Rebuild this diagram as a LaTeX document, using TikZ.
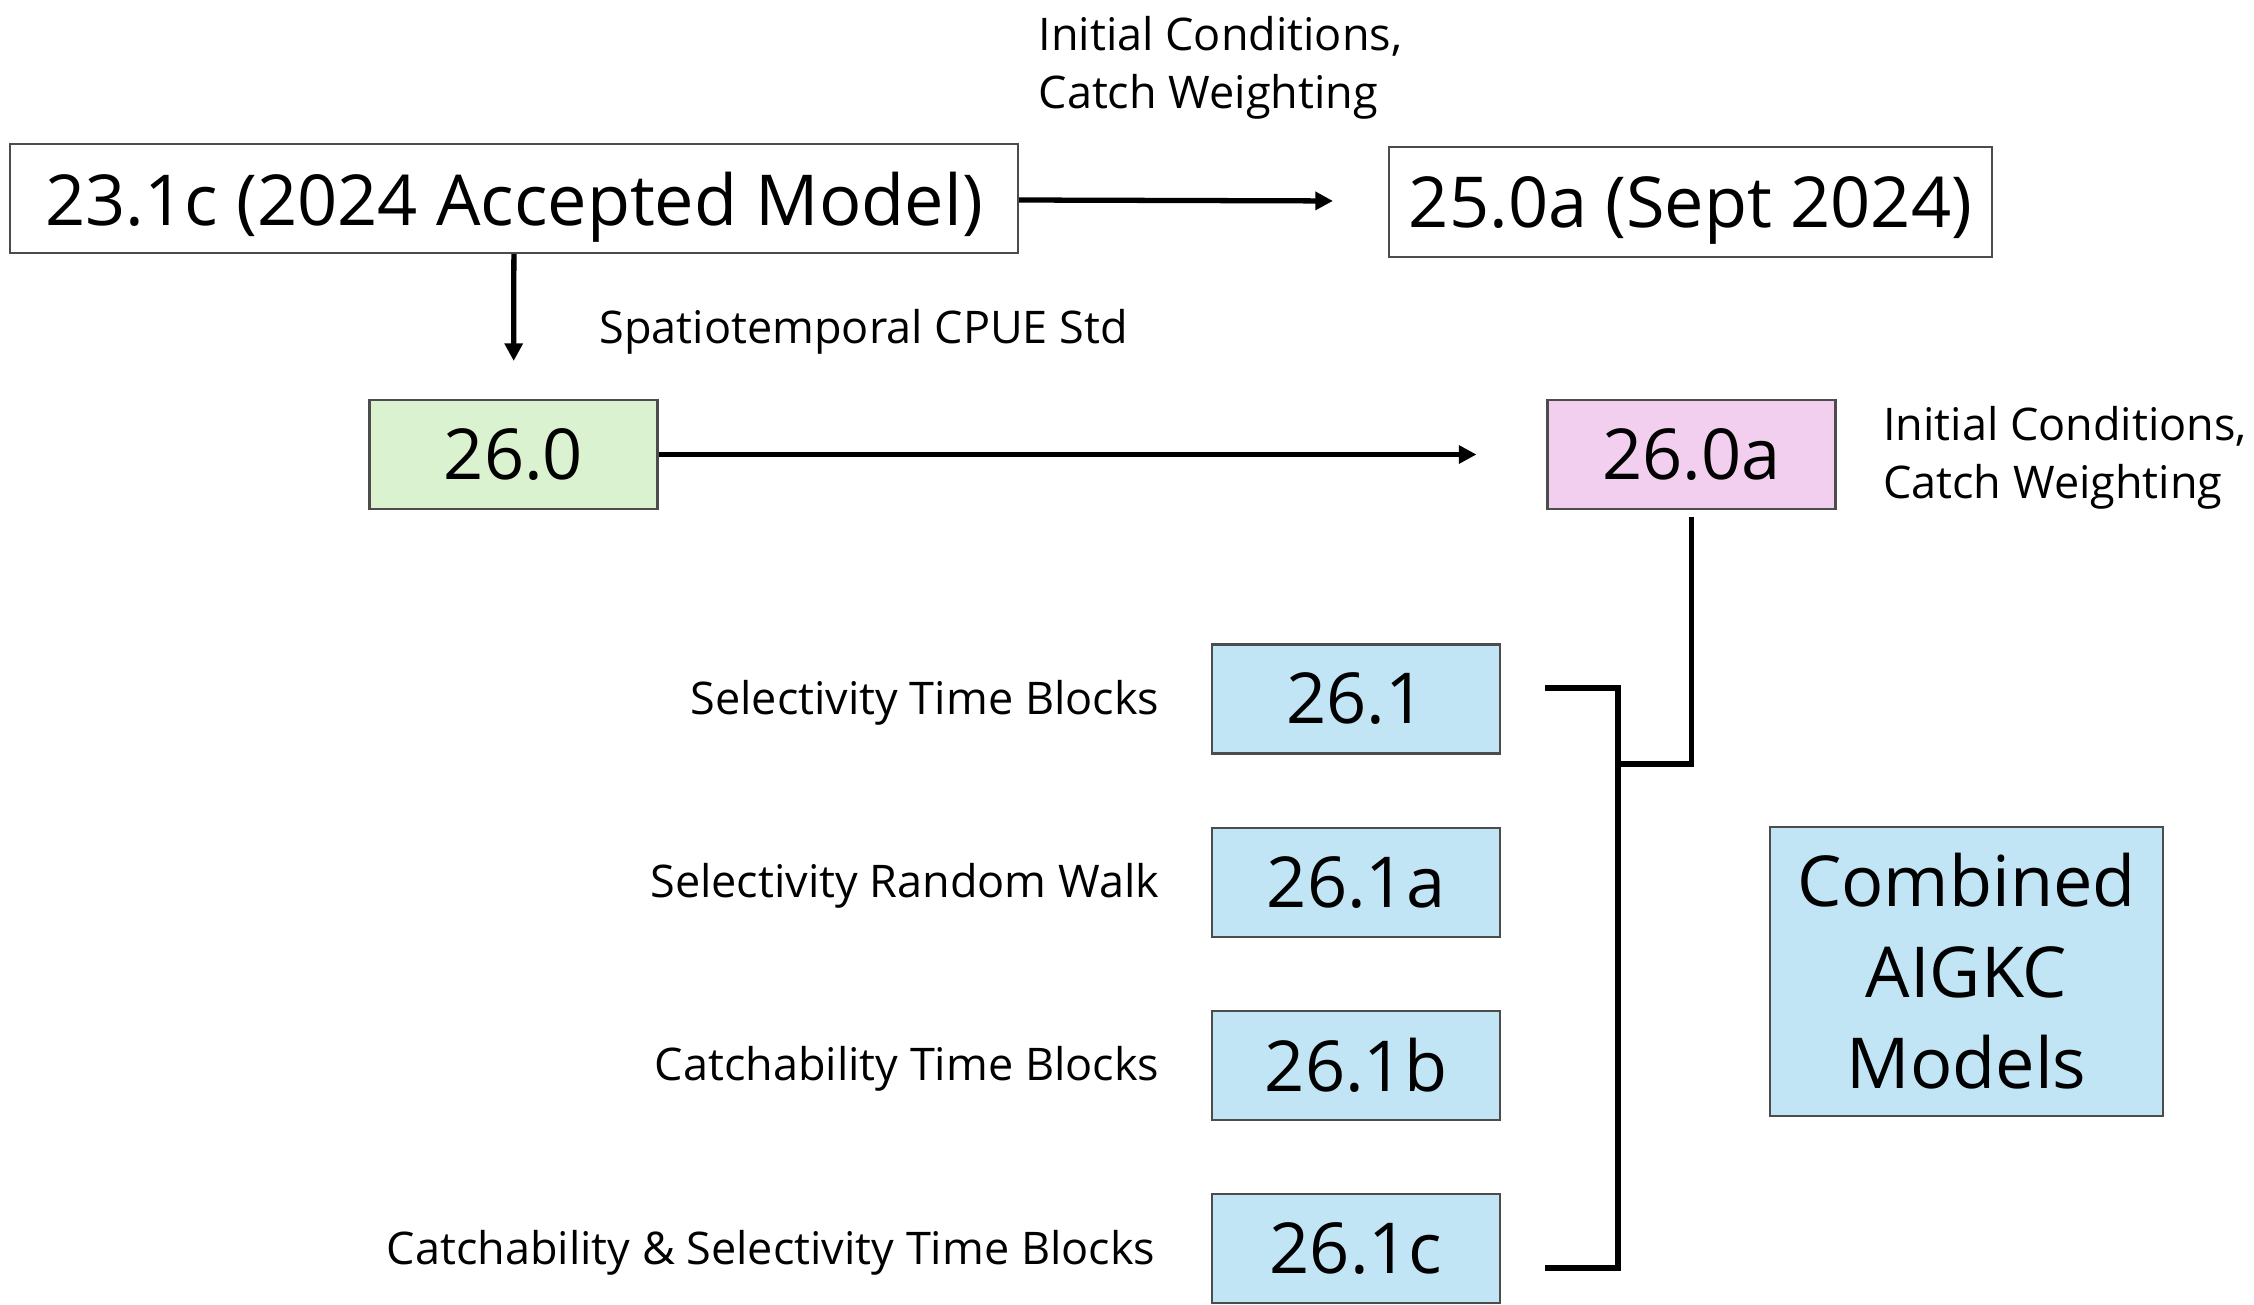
\documentclass[tikz,border=0pt]{standalone}
\usepackage{fontspec}
\setmainfont{Open Sans}
\usetikzlibrary{arrows.meta,positioning}
\definecolor{runblue}{RGB}{193,229,245}
\definecolor{rungreen}{RGB}{218,242,208}
\definecolor{runpink}{RGB}{242,207,238}

\begin{document}
\begin{tikzpicture}[
	model/.style={draw=black!70,line width=0.6pt,inner sep=0pt,minimum width=2.88cm,minimum height=1.09cm,font=\fontsize{20}{26}\selectfont},
	link/.style={line width=1.5pt},
	arr/.style={link,-{Triangle[length=5pt,width=5pt]}},
	note/.style={inner sep=0pt,align=left,font=\fontsize{12.8}{16.4}\selectfont}]
	\useasboundingbox (0,0) rectangle (22.54,-13.04);

	%boxes
	\node[model,minimum width=10.08cm,text depth=0pt] (base) at (5.14,-1.985) {23.1c (2024 Accepted Model)};
	\node[model,minimum width=6.03cm,minimum height=1.10cm,text depth=0pt] (sept) at (16.905,-2.02) {25.0a (Sept 2024)};
	\node[model,fill=rungreen] (std) at (5.135,-4.545) {26.0};
	\node[model,fill=runpink] (stda) at (16.915,-4.545) {26.0a};

	\node[model,fill=runblue] (sel) at (13.56,-6.99) {26.1};
	\node[model,fill=runblue,below=0.72cm of sel] (rw) {26.1a};
	\node[model,fill=runblue,below=0.72cm of rw] (catch) {26.1b};
	\node[model,fill=runblue,below=0.72cm of catch] (both) {26.1c};

	\node[model,fill=runblue,minimum width=3.93cm,minimum height=2.89cm,align=center,
		font=\fontsize{20}{25.9}\selectfont] (comb) at (19.665,-9.715) {Combined\\AIGKC\\Models};

	%labels
	\node[note,anchor=west] (icw) at (10.38,-0.675) {Initial Conditions,\\Catch Weighting};
	\node[note,anchor=west] (cpue) at (5.99,-3.32) {Spatiotemporal CPUE Std};
	\node[note,right=0.46cm of stda,yshift=-0.03cm] (icwb) {Initial Conditions,\\Catch Weighting};

	\node[note,left=0.51cm of sel,yshift=-0.04cm] {Selectivity Time Blocks};
	\node[note,left=0.51cm of rw,yshift=-0.04cm] {Selectivity Random Walk};
	\node[note,left=0.51cm of catch,yshift=-0.04cm] {Catchability Time Blocks};
	\node[note,left=0.55cm of both,yshift=-0.04cm] {Catchability \& Selectivity Time Blocks};

	%arrows
	\draw[arr,shorten >=0.55cm] (base) -- (sept);			%23.1c--25.0a
	\draw[arr,shorten >=0.38cm] (base) -- (std);			%23.1c--26.0
	\draw[arr,shorten >=0.70cm] (std) -- (stda);			%26.0--26.0a

	%bracket
	\coordinate (tktop) at (15.45,-6.88);
	\coordinate (tkbot) at (15.45,-12.68);
	\coordinate (join) at (16.18,-7.64);
	\draw[link] (tktop) -- ++(0.73,0) |- (tkbot);			%26.1--26.1c
	\draw[link] ([yshift=-0.07cm]stda.south) |- (join);		%26.0a--bracket
\end{tikzpicture}
\end{document}
